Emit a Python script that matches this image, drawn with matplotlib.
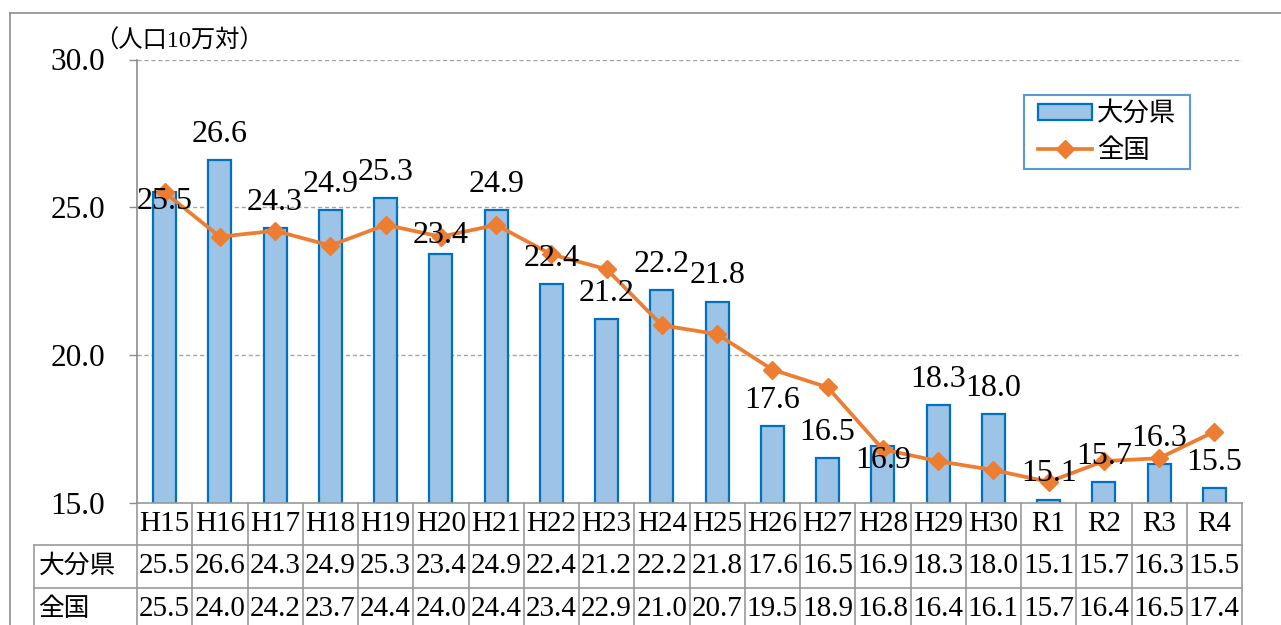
import matplotlib
matplotlib.use('Agg')
import matplotlib.pyplot as plt
from matplotlib.patches import Patch, Rectangle
from matplotlib.lines import Line2D
from matplotlib.transforms import blended_transform_factory
import numpy as np

plt.rcParams['font.family'] = ['Liberation Serif', 'Noto Sans CJK JP']

# データ
categories = ['H15', 'H16', 'H17', 'H18', 'H19', 'H20', 'H21', 'H22', 'H23', 'H24',
              'H25', 'H26', 'H27', 'H28', 'H29', 'H30', 'R1', 'R2', 'R3', 'R4']
oita = [25.5, 26.6, 24.3, 24.9, 25.3, 23.4, 24.9, 22.4, 21.2, 22.2,
        21.8, 17.6, 16.5, 16.9, 18.3, 18.0, 15.1, 15.7, 16.3, 15.5]
zenkoku = [25.5, 24.0, 24.2, 23.7, 24.4, 24.0, 24.4, 23.4, 22.9, 21.0,
           20.7, 19.5, 18.9, 16.8, 16.4, 16.1, 15.7, 16.4, 16.5, 17.4]
series_names = ['大分県', '全国']
unit_label = '（人口10万対）'
yticks = [15, 20, 25, 30]

bar_face = '#9DC3E6'
bar_edge = '#0070C0'
line_color = '#ED7D31'
grid_gray = '#A6A6A6'

W, H = 1281, 625
fig = plt.figure(figsize=(W / 100, H / 100), dpi=100)
ax_l, ax_r, ax_t, ax_b = 137, 1242, 59.5, 502.5
ax = fig.add_axes([ax_l / W, 1 - ax_b / H, (ax_r - ax_l) / W, (ax_b - ax_t) / H])

x = np.arange(len(categories))
ax.bar(x, oita, width=0.42, color=bar_face, edgecolor=bar_edge, linewidth=1.6, zorder=2)
ax.plot(x, zenkoku, color=line_color, lw=2.7, marker='D', ms=9.5, zorder=3)

ax.set_xlim(-0.5, len(categories) - 0.5)
ax.set_ylim(15, 30)
ax.set_yticks(yticks)
ax.set_yticklabels([f'{v:.1f}' for v in yticks], fontsize=22.5)
ax.set_xticks([])
ax.tick_params(axis='y', direction='out', length=6, width=1, color='#8C8C8C', pad=17)
ax.yaxis.grid(True, linestyle=(0, (3, 2)), color=grid_gray, lw=1)
ax.set_axisbelow(True)
for s in ['top', 'right', 'bottom']:
    ax.spines[s].set_visible(False)
ax.spines['left'].set_color('#8C8C8C')
ax.spines['left'].set_linewidth(1.2)

# データラベル (一部は位置を手で調整)
label_shift = {0: -6.5, 5: 13.5, 13: -10}
for i, v in enumerate(oita):
    dy = label_shift.get(i, 18.5)
    ax.annotate(f'{v:.1f}', (i, v), xytext=(0, dy), textcoords='offset points',
                ha='center', va='center', fontsize=23, zorder=5)

# 単位
ax.text(-0.039, 1.042, unit_label, transform=ax.transAxes, fontsize=17.5,
        ha='left', va='center')

# 凡例
lx0, lx1, ly0, ly1 = 1024, 1190, 95, 169
fig.patches.append(Rectangle((lx0 / W, 1 - ly1 / H), (lx1 - lx0) / W, (ly1 - ly0) / H,
                             transform=fig.transFigure, fill=False,
                             edgecolor='#5B9BD5', lw=1.5))
handles = [Patch(facecolor=bar_face, edgecolor=bar_edge, lw=1.6),
           Line2D([], [], color=line_color, lw=2.7, marker='D', ms=9.5)]
leg = fig.legend(handles, series_names, loc='center',
                 bbox_to_anchor=((lx0 + lx1) / 2 / W, 1 - (ly0 + ly1) / 2 / H),
                 frameon=False, fontsize=19, handlelength=2.05, handleheight=0.55,
                 handletextpad=0.2, labelspacing=0.45, borderpad=0)

# データテーブル
tr = blended_transform_factory(ax.transData, ax.transAxes)
rh = 42.5 / (ax_b - ax_t)
x_lab = -0.5 - (ax_l - 34) / ((ax_r - ax_l) / len(categories))
tbl_gray = '#999999'
n = len(categories)
ax.plot([-0.5, n - 0.5], [0, 0], color=tbl_gray, lw=1.2, transform=tr, clip_on=False)
for k in (1, 2, 3):
    ax.plot([x_lab, n - 0.5], [-k * rh, -k * rh], color=tbl_gray, lw=1.2,
            transform=tr, clip_on=False)
for k in range(n + 1):
    ax.plot([k - 0.5, k - 0.5], [0, -3 * rh], color=tbl_gray, lw=1.2,
            transform=tr, clip_on=False)
ax.plot([x_lab, x_lab], [-rh, -3 * rh], color=tbl_gray, lw=1.2, transform=tr, clip_on=False)

for i, c in enumerate(categories):
    ax.text(i, -0.5 * rh, c, transform=tr, ha='center', va='center', fontsize=21)
    ax.text(i, -1.5 * rh, f'{oita[i]:.1f}', transform=tr, ha='center', va='center', fontsize=21)
    ax.text(i, -2.5 * rh, f'{zenkoku[i]:.1f}', transform=tr, ha='center', va='center', fontsize=21)
for r, name in enumerate(series_names):
    ax.text(x_lab + 0.08, -(1.5 + r) * rh, name, transform=tr, ha='left', va='center',
            fontsize=18.5)

# 外枠
fig.add_artist(Line2D([9.5 / W, 9.5 / W], [0, 1 - 12.5 / H], transform=fig.transFigure,
                      color='#8C8C8C', lw=1.2))
fig.add_artist(Line2D([9.5 / W, 1], [1 - 12.5 / H, 1 - 12.5 / H], transform=fig.transFigure,
                      color='#8C8C8C', lw=1.2))

fig.savefig('out.png', dpi=100)
